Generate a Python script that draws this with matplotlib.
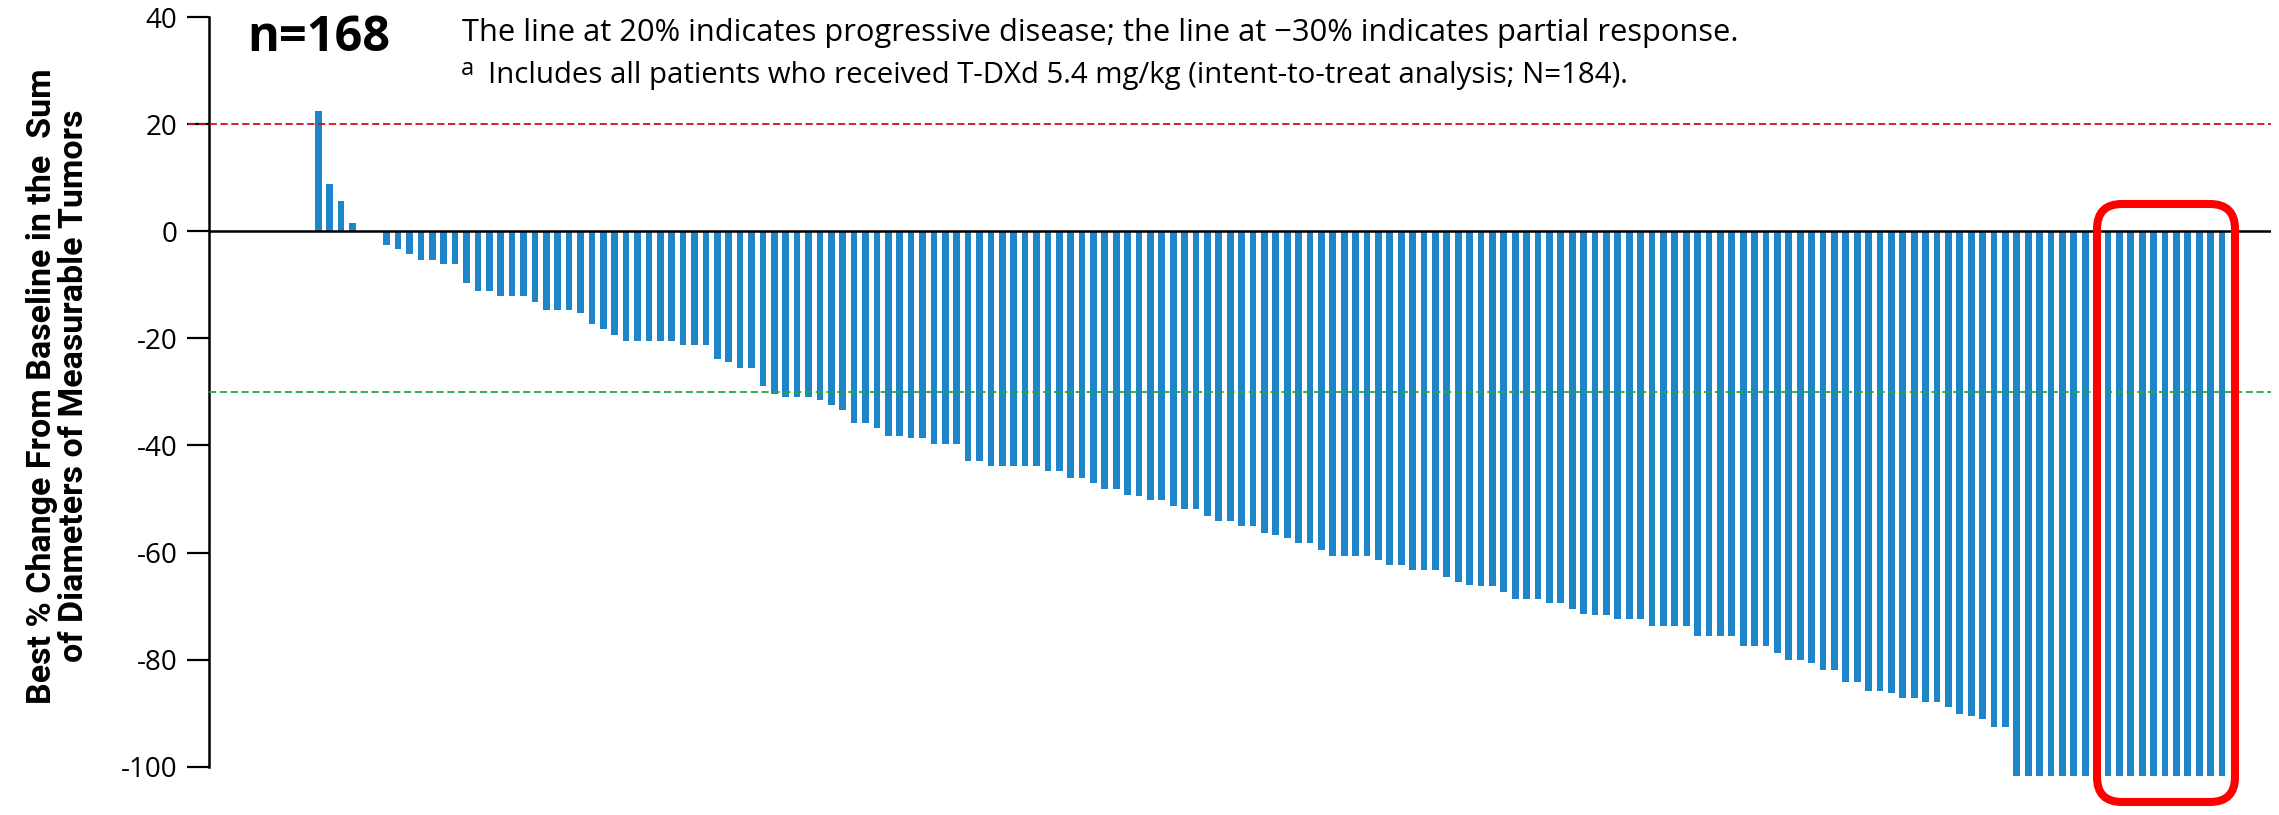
import matplotlib
matplotlib.use("Agg")
import matplotlib.pyplot as plt
from matplotlib.patches import FancyBboxPatch
from matplotlib.transforms import IdentityTransform

# ---------------- data ----------------
best_change = [
    22.5, 8.8, 5.7, 1.5, 0.0, 0.0, -2.5, -3.3, -4.2, -5.3,
    -5.3, -6.2, -6.2, -9.6, -11.2, -11.2, -12.1, -12.1, -12.1, -13.2,
    -14.7, -14.7, -14.7, -15.2, -17.4, -18.3, -19.4, -20.5, -20.5, -20.5,
    -20.5, -20.5, -21.3, -21.3, -21.3, -23.8, -24.5, -25.5, -25.5, -29.0,
    -30.4, -30.9, -30.9, -30.9, -31.5, -32.5, -33.4, -35.8, -35.8, -36.8,
    -38.2, -38.2, -38.7, -38.7, -39.7, -39.7, -39.7, -43.0, -43.0, -43.8,
    -43.8, -43.8, -43.8, -43.8, -44.7, -44.7, -46.0, -46.0, -47.1, -48.1,
    -48.1, -49.2, -49.4, -50.2, -50.2, -51.4, -51.9, -51.9, -53.2, -54.2,
    -54.2, -55.1, -55.1, -56.3, -56.8, -57.3, -58.3, -58.3, -59.5, -60.6,
    -60.6, -60.6, -60.6, -61.4, -62.4, -62.4, -63.2, -63.2, -63.2, -64.5,
    -65.5, -66.1, -66.3, -66.3, -67.4, -68.6, -68.6, -68.6, -69.4, -69.4,
    -70.6, -71.5, -71.7, -71.7, -72.4, -72.4, -72.4, -73.7, -73.7, -73.7,
    -73.7, -75.6, -75.6, -75.6, -75.6, -77.5, -77.5, -77.5, -78.7, -80.0,
    -80.0, -80.7, -82.0, -82.0, -84.2, -84.2, -85.8, -85.8, -86.2, -87.1,
    -87.1, -88.0, -88.0, -88.9, -90.2, -90.6, -91.1, -92.5, -92.5, -101.7,
    -101.7, -101.7, -101.7, -101.7, -101.7, -101.7, -101.7, -101.7, -101.7, -101.7,
    -101.7, -101.7, -101.7, -101.7, -101.7, -101.7, -101.7, -101.7,
]
y_ticks = [40, 20, 0, -20, -40, -60, -80, -100]
y_tick_labels = ["40", "20", "0", "-20", "-40", "-60", "-80", "-100"]
pd_threshold = 20
pr_threshold = -30
n_label = "n=168"
note_line1 = "The line at 20% indicates progressive disease; the line at \u221230% indicates partial response."
note_mark = "a"
note_line2 = "Includes all patients who received T-DXd 5.4 mg/kg (intent-to-treat analysis; N=184)."
y_label = "Best % Change From Baseline in the  Sum\nof Diameters of Measurable Tumors"

assert len(best_change) == 168

# ---------------- figure ----------------
plt.rcParams['font.family'] = ['Open Sans', 'DejaVu Sans']
W, H = 2279, 815
fig = plt.figure(figsize=(W / 100, H / 100), dpi=100)
fig.patch.set_facecolor('white')


def fx(px):
    return px / W


def fy(py):
    return 1 - py / H


ax_left, ax_right, ax_top, ax_bottom = 209, 2271, 17, 766.7
ax = fig.add_axes([fx(ax_left), fy(ax_bottom), (ax_right - ax_left) / W, (ax_bottom - ax_top) / H])

x = list(range(len(best_change)))
ax.bar(x, best_change, width=0.59, color="#1E86C8", clip_on=False, zorder=2)

ax.set_xlim(-9.59, 171.3)
ax.set_ylim(-100, 40)

# reference lines
ax.axhline(0, color='black', lw=1.8, zorder=3)
ax.plot([-11.45, 171.3], [pd_threshold, pd_threshold], color='#D0101A', lw=1.3,
        ls=(0, (4.0, 2.0)), clip_on=False, zorder=4)
ax.plot([-9.59, 171.3], [pr_threshold, pr_threshold], color='#22A83E', lw=1.3,
        ls=(0, (4.0, 2.0)), clip_on=False, zorder=4)

# axes styling
for s in ['top', 'right', 'bottom']:
    ax.spines[s].set_visible(False)
ax.spines['left'].set_linewidth(1.8)
ax.spines['left'].set_bounds(-100, 40)
ax.set_xticks([])
ax.set_yticks(y_ticks)
ax.set_yticklabels(y_tick_labels)
ax.tick_params(axis='y', length=15.8, width=1.6, pad=7, labelsize=20)
ax.set_facecolor('none')

# texts
fig.text(fx(247), fy(51), n_label, fontsize=35, fontweight='bold', ha='left', va='baseline')
fig.text(fx(462), fy(41), note_line1, fontsize=22.2, ha='left', va='baseline')
fig.text(fx(461), fy(75), note_mark, fontsize=17, ha='left', va='baseline')
fig.text(fx(488), fy(83), note_line2, fontsize=21.2, ha='left', va='baseline')
fig.text(fx(58), fy(386), y_label, rotation=90, ha='center', va='center',
         multialignment='center', fontsize=24.5, fontweight='bold',
         family=['Roboto', 'DejaVu Sans'], linespacing=1.02)

# highlight box (figure pixel coordinates)
box = FancyBboxPatch((2097, H - 802), 2235 - 2097, 802 - 204,
                     boxstyle="round,pad=0,rounding_size=25",
                     transform=IdentityTransform(), fill=False,
                     edgecolor='#FF0000', linewidth=5.8, zorder=10)
fig.add_artist(box)

fig.savefig("out.png", dpi=100)
